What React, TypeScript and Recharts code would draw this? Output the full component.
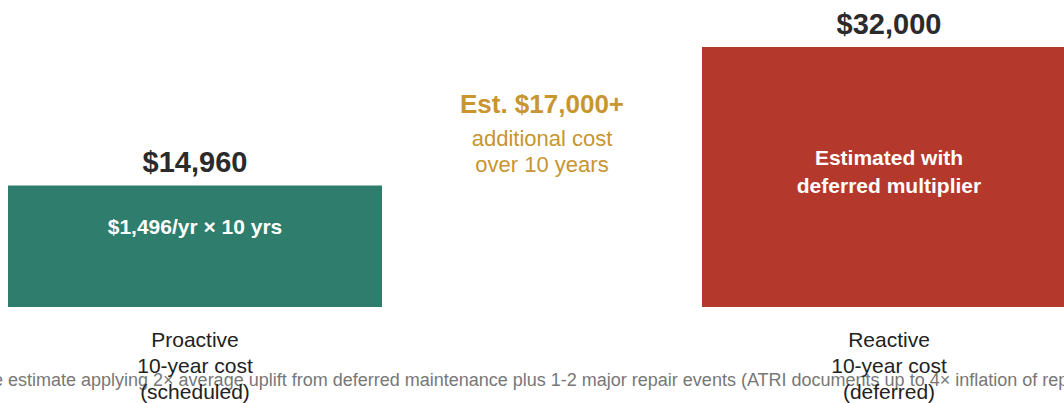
import { BarChart, Bar, XAxis, YAxis, LabelList, Cell } from "recharts";

// 10-year cost comparison, proactive vs reactive maintenance
const categories = ["Proactive", "Reactive"];
const categorySubtitles = [
  ["10-year cost", "(scheduled)"],
  ["10-year cost", "(deferred)"],
];
const tenYearCosts = [14960, 32000];
const costLabels = ["$14,960", "$32,000"];
const barNotes = [["$1,496/yr × 10 yrs"], ["Estimated with", "deferred multiplier"]];
const barColors = ["#2e7d6d", "#b4392c"];
const gapNote = ["Est. $17,000+", "additional cost", "over 10 years"];
const footnoteLead = "Reactive cost is a conservative";
const footnoteText =
  "estimate applying 2× average uplift from deferred maintenance plus 1-2 major repair events (ATRI documents up to 4× inflation of repair costs when maintenance is deferred)";

const FONT = '"Liberation Sans", Arial, Helvetica, sans-serif';
const GOLD = "#c8952e";

const chartData = categories.map((name, i) => ({ name, cost: tenYearCosts[i] }));

function CategoryTick(props: any) {
  const { x, y, payload } = props;
  const i = categories.indexOf(payload.value);
  const lines = [payload.value, ...(categorySubtitles[i] ?? [])];
  return (
    <text textAnchor="middle" fill="#222" fontSize={21} fontFamily={FONT}>
      {lines.map((line, k) => (
        <tspan key={k} x={x} y={y + 40 + k * 26}>
          {line}
        </tspan>
      ))}
    </text>
  );
}

function CostLabel(props: any) {
  const vb = props.viewBox ?? props;
  const { x, y, width, height } = vb;
  const i = props.index;
  const cx = x + width / 2;
  const mid = y + height / 2;
  return (
    <g fontFamily={FONT}>
      <text x={cx} y={y - 13} textAnchor="middle" fontSize={29} fontWeight={700} fill="#2b2b2b">
        {costLabels[i]}
      </text>
      <text textAnchor="middle" fontSize={21} fontWeight={700} fill="#fff">
        {(barNotes[i] ?? []).map((line, k) => (
          <tspan key={k} x={cx} y={mid - 12 + k * 28}>
            {line}
          </tspan>
        ))}
      </text>
    </g>
  );
}

export default function App() {
  return (
    <div style={{ position: "absolute", left: 0, top: 0, width: 1064, height: 403, background: "#fff" }}>
      <BarChart
        width={1064}
        height={403}
        data={chartData}
        margin={{ top: 47, right: -172, bottom: 0, left: -152 }}
        barSize={374}
      >
        <YAxis hide domain={[0, 32000]} />
        <XAxis
          dataKey="name"
          height={96}
          axisLine={false}
          tickLine={false}
          tickSize={0}
          tickMargin={0}
          interval={0}
          tick={<CategoryTick />}
        />
        <Bar dataKey="cost" isAnimationActive={false}>
          {chartData.map((_, i) => (
            <Cell key={i} fill={barColors[i]} />
          ))}
          <LabelList dataKey="cost" content={<CostLabel />} />
        </Bar>

        {/* gap annotation between the two bars */}
        <text textAnchor="middle" fill={GOLD} fontFamily={FONT}>
          <tspan x={542} y={113} fontSize={26} fontWeight={700}>
            {gapNote[0]}
          </tspan>
          <tspan x={542} y={146} fontSize={22}>
            {gapNote[1]}
          </tspan>
          <tspan x={542} y={172} fontSize={22}>
            {gapNote[2]}
          </tspan>
        </text>

        {/* footnote, wider than the frame */}
        <text x={3} y={386} textAnchor="end" fill="#777" fontSize={18} fontFamily={FONT}>
          {footnoteLead}
        </text>
        <text x={8} y={386} textAnchor="start" fill="#777" fontSize={18} fontFamily={FONT}>
          {footnoteText}
        </text>
      </BarChart>
    </div>
  );
}
